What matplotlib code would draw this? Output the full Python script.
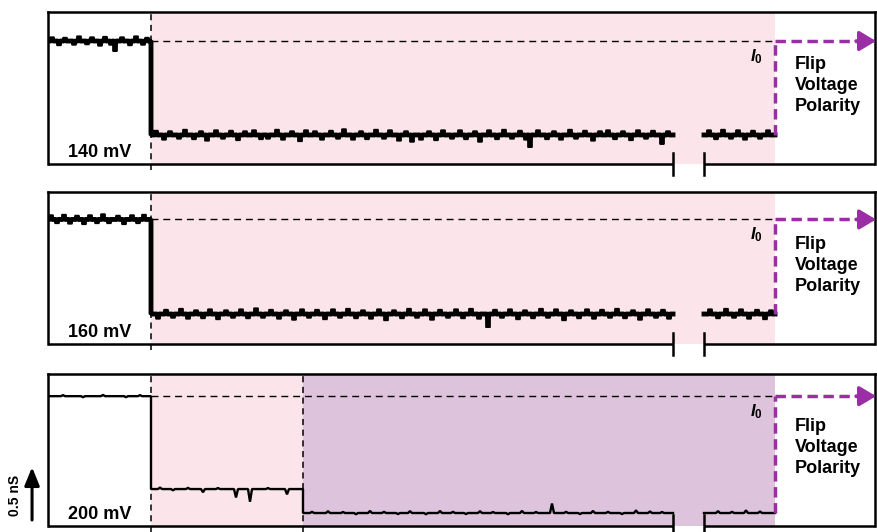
import numpy as np
import matplotlib
matplotlib.use('Agg')
import matplotlib.pyplot as plt

plt.rcParams['font.family'] = ['Liberation Sans', 'DejaVu Sans']
plt.rcParams['font.weight'] = 'bold'
plt.rcParams['mathtext.fontset'] = 'custom'
plt.rcParams['mathtext.it'] = 'Liberation Sans:italic:bold'
plt.rcParams['mathtext.rm'] = 'Liberation Sans:bold'

# time axis (arbitrary units) and event times
T_END = 8.27
T_BLOCK = 1.03
T_STEP2 = 2.55
T_FLIP = 7.27
GAP = (6.25, 6.56)

voltages = ['140 mV', '160 mV', '200 mV']

# conductance levels (nS, offset) between the event times
p1_edges = [0.0, T_BLOCK, T_FLIP]
p1_levels = [1.165, 0.275]
p2_edges = [0.0, T_BLOCK, T_FLIP]
p2_levels = [1.18, 0.284]
p3_edges = [0.0, T_BLOCK, T_STEP2, T_FLIP]
p3_levels = [1.23, 0.35, 0.123]

# current fluctuations on top of each level: time, deviation (nS)
p1_spike_t = [0.04, 0.11, 0.17, 0.26, 0.31, 0.39, 0.44, 0.52, 0.57, 0.63,
              0.67, 0.74, 0.82, 0.88, 0.95, 0.99,
              1.08, 1.16, 1.22, 1.31, 1.37, 1.46, 1.53, 1.59, 1.68, 1.75,
              1.83, 1.90, 1.97, 2.06, 2.13, 2.20, 2.29, 2.35, 2.44, 2.52,
              2.58, 2.67, 2.74, 2.83, 2.90, 2.96, 3.05, 3.13, 3.19, 3.28,
              3.36, 3.42, 3.51, 3.58, 3.64, 3.73, 3.81, 3.88, 3.95, 4.04,
              4.12, 4.18, 4.27, 4.32, 4.41, 4.49, 4.56, 4.64, 4.72, 4.78,
              4.82, 4.90, 4.99, 5.06, 5.13, 5.22, 5.28, 5.37, 5.45, 5.52,
              5.60, 5.67, 5.75, 5.83, 5.90, 5.98, 6.05, 6.14, 6.20, 6.61,
              6.68, 6.75, 6.83, 6.90, 6.97, 7.05, 7.12, 7.20]
p1_spike_dy = [0.04, -0.045, 0.035, -0.04, 0.05, -0.035, 0.04, -0.05, 0.045, -0.04,
               -0.10, 0.04, -0.045, 0.05, -0.04, 0.035,
               0.045, -0.05, 0.04, -0.04, 0.055, -0.045, 0.04, -0.06, 0.05, -0.04,
               0.045, -0.055, 0.04, 0.05, -0.045, -0.04, 0.055, -0.05, 0.04, -0.065,
               0.05, 0.04, -0.05, 0.045, -0.04, 0.06, -0.05, 0.04, -0.045, 0.055,
               -0.04, 0.05, -0.06, 0.04, -0.07, -0.05, 0.04, -0.055, 0.05, -0.04,
               0.05, -0.045, 0.04, -0.07, 0.05, -0.045, 0.055, -0.04, 0.045, -0.05,
               -0.12, 0.05, -0.045, 0.04, -0.05, 0.055, -0.04, 0.045, -0.06, 0.04,
               0.05, -0.045, 0.04, -0.055, 0.05, -0.04, 0.045, -0.09, 0.04, 0.05,
               -0.045, 0.055, -0.04, 0.05, -0.05, 0.045, -0.04, 0.05]

p2_spike_t = [0.03, 0.09, 0.16, 0.22, 0.29, 0.36, 0.42, 0.49, 0.55, 0.61,
              0.70, 0.76, 0.84, 0.90, 0.96,
              1.10, 1.18, 1.25, 1.33, 1.40, 1.48, 1.55, 1.62, 1.70, 1.78,
              1.85, 1.93, 2.00, 2.08, 2.15, 2.23, 2.31, 2.38, 2.46, 2.54,
              2.61, 2.69, 2.77, 2.85, 2.92, 3.00, 3.08, 3.15, 3.23, 3.31,
              3.38, 3.46, 3.54, 3.61, 3.69, 3.77, 3.84, 3.92, 4.00, 4.08,
              4.15, 4.23, 4.31, 4.40, 4.47, 4.54, 4.62, 4.70, 4.77, 4.85,
              4.93, 5.00, 5.08, 5.16, 5.23, 5.31, 5.39, 5.46, 5.54, 5.62,
              5.69, 5.77, 5.85, 5.92, 6.00, 6.08, 6.15, 6.21, 6.62, 6.70,
              6.78, 6.86, 6.93, 7.01, 7.09, 7.17, 7.23]
p2_spike_dy = [0.045, -0.04, 0.05, -0.045, 0.04, -0.05, 0.045, -0.04, 0.055, -0.04,
               0.04, -0.05, 0.045, -0.04, 0.05,
               -0.05, 0.045, -0.04, 0.055, -0.05, 0.04, -0.045, 0.05, -0.055, 0.04,
               -0.04, 0.05, -0.045, 0.06, -0.04, 0.045, -0.05, 0.04, -0.06, 0.05,
               -0.04, 0.045, -0.055, 0.05, -0.04, 0.055, -0.045, 0.04, -0.05, 0.05,
               -0.065, 0.04, -0.045, 0.055, -0.04, 0.05, -0.06, 0.045, -0.04, 0.05,
               -0.045, 0.055, -0.05, -0.13, 0.045, -0.04, 0.05, -0.055, 0.04, -0.045,
               0.055, -0.04, 0.05, -0.065, 0.04, -0.045, 0.05, -0.05, 0.045, -0.04,
               0.055, -0.045, 0.04, -0.06, 0.05, -0.04, 0.045, -0.05, 0.05, -0.045,
               0.055, -0.04, 0.05, -0.05, 0.045, -0.055, 0.04]

p3_spike_t = [0.15, 0.35, 0.55, 0.78, 0.92,
              1.12, 1.25, 1.40, 1.55, 1.70, 1.88, 2.02, 2.20, 2.39,
              2.64, 2.80, 2.95, 3.08, 3.22, 3.36, 3.50, 3.62, 3.78, 3.92,
              4.05, 4.18, 4.32, 4.45, 4.60, 4.74, 4.88, 5.04, 5.18, 5.32,
              5.45, 5.60, 5.74, 5.88, 6.02, 6.14, 6.70, 6.84, 6.98, 7.12]
p3_spike_dy = [0.01, -0.01, 0.012, -0.01, 0.01,
               0.015, -0.012, 0.012, -0.03, 0.01, -0.08, -0.12, 0.01, -0.05,
               0.012, 0.018, 0.01, -0.012, 0.02, 0.012, -0.01, 0.018, -0.012, 0.02,
               0.012, -0.01, 0.018, 0.01, -0.012, 0.02, 0.01, 0.09, 0.012, -0.01,
               0.02, 0.012, -0.01, 0.025, 0.015, 0.01, 0.018, 0.012, 0.025, 0.015]

PINK = '#fbe4ea'
MAUVE = '#ddc3dc'
PURPLE = '#9a2fa5'


def build_trace(edges, levels, spike_t, spike_dy, gap, w):
    xs, ys = [], []
    spikes = sorted(zip(spike_t, spike_dy))
    for i, lev in enumerate(levels):
        a, b = edges[i], edges[i + 1]
        events = [(t, d) for t, d in spikes if a + w < t < b - w
                  and not (gap[0] - w < t < gap[1] + w)]
        if a < gap[0] < b:
            events.append((gap[0], None))
        events.sort(key=lambda e: e[0])
        xs.append(a)
        ys.append(lev)
        for t, d in events:
            if d is None:
                xs += [gap[0], np.nan, gap[1]]
                ys += [lev, np.nan, lev]
            else:
                xs += [t - w, t, t + w]
                ys += [lev, lev + d, lev]
        xs.append(b)
        ys.append(lev)
    return np.array(xs), np.array(ys)


fig = plt.figure(figsize=(8.77, 5.32), dpi=100)
W, H = 877.0, 532.0
left, width, height = 48 / W, 827 / W, 152 / H
panel_bottoms = [164, 344, 526]

panels = [
    (p1_edges, p1_levels, p1_spike_t, p1_spike_dy, 3.5, 0.008),
    (p2_edges, p2_levels, p2_spike_t, p2_spike_dy, 3.5, 0.008),
    (p3_edges, p3_levels, p3_spike_t, p3_spike_dy, 1.7, 0.02),
]

axes = []
for k, (edges, levels, st, sdy, lw, w) in enumerate(panels):
    ax = fig.add_axes([left, (H - panel_bottoms[k]) / H, width, height])
    axes.append(ax)
    ax.set_xlim(0, T_END)
    ax.set_ylim(0, 1.44)
    ax.set_xticks([])
    ax.set_yticks([])
    for side in ['top', 'left', 'right']:
        ax.spines[side].set_linewidth(1.8)
    ax.spines['bottom'].set_visible(False)

    # shaded blocked states
    if len(levels) == 2:
        ax.axvspan(T_BLOCK, T_FLIP, color=PINK, lw=0, zorder=0)
    else:
        ax.axvspan(T_BLOCK, T_STEP2, color=PINK, lw=0, zorder=0)
        ax.axvspan(T_STEP2, T_FLIP, color=MAUVE, lw=0, zorder=0)

    # broken time axis
    ax.plot([0, GAP[0]], [0, 0], color='black', lw=1.8, clip_on=False,
            solid_capstyle='butt')
    ax.plot([GAP[1], T_END], [0, 0], color='black', lw=1.8, clip_on=False,
            solid_capstyle='butt')
    for g in GAP:
        ax.plot([g, g], [-0.1, 0.1], color='black', lw=1.8, clip_on=False)

    # event markers
    for t in edges[1:-1]:
        ax.plot([t, t], [-0.06, 1.44], color='black', lw=1.1,
                dashes=(4, 3), clip_on=False, zorder=2)

    g_open = levels[0]
    ax.plot([T_BLOCK, T_FLIP], [g_open, g_open], color='black', lw=1.0,
            dashes=(5, 3.5), zorder=2)

    x, y = build_trace(edges, levels, st, sdy, GAP, w)
    ax.plot(x, y, color='black', lw=lw, solid_joinstyle='bevel', zorder=3)

    # polarity flip
    ax.plot([T_FLIP, T_FLIP], [levels[-1], g_open], color=PURPLE, lw=2.5,
            dashes=(3, 1.6), zorder=4)
    ax.plot([T_FLIP, 8.1], [g_open, g_open], color=PURPLE, lw=2.5,
            dashes=(3, 1.6), zorder=4)
    ax.annotate('', xy=(T_END + 0.01, g_open), xytext=(8.08, g_open),
                arrowprops=dict(arrowstyle='-|>,head_length=1.0,head_width=0.6',
                                color=PURPLE, lw=2.5, shrinkA=0, shrinkB=0),
                annotation_clip=False, zorder=5)

    ax.text(7.02, g_open - 0.145, r'$\mathit{I_0}$', fontsize=12,
            ha='left', va='center')
    ax.text(7.47, 1 - 44 / 152, 'Flip\nVoltage\nPolarity', fontsize=13,
            fontweight='bold', ha='left', va='top', linespacing=1.32,
            transform=ax.get_xaxis_transform())
    ax.text(0.2, 0.07, voltages[k], fontsize=13, fontweight='bold',
            ha='left', va='baseline')

# conductance scale bar
ax3 = axes[2]
y0 = 0.057
ax3.annotate('', xy=(-0.0193, y0 + 0.5), xytext=(-0.0193, y0),
             xycoords=('axes fraction', 'data'), textcoords=('axes fraction', 'data'),
             arrowprops=dict(arrowstyle='-|>,head_length=1.1,head_width=0.45',
                             color='black', lw=2.2, shrinkA=0, shrinkB=0),
             annotation_clip=False)
ax3.text(-0.040, y0 + 0.23, '0.5 nS', rotation=90, fontsize=10,
         fontweight='bold', ha='center', va='center',
         transform=ax3.get_yaxis_transform())

fig.savefig('out.png', dpi=100)
